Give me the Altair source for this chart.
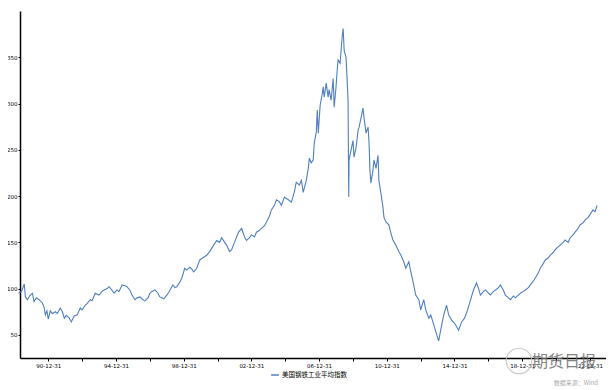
import altair as alt
import pandas as pd

years = [1989.24,1989.42,1989.58,1989.65,1989.77,1989.89,1990.06,1990.16,1990.30,1990.46,1990.65,1990.75,1990.83,1990.92,1991.00,1991.12,1991.24,1991.42,1991.53,1991.71,1991.83,1991.95,1992.06,1992.24,1992.36,1992.53,1992.71,1992.89,1993.00,1993.18,1993.30,1993.48,1993.59,1993.77,1994.00,1994.18,1994.30,1994.48,1994.59,1994.77,1994.89,1995.06,1995.18,1995.36,1995.53,1995.65,1995.83,1995.95,1996.12,1996.24,1996.42,1996.59,1996.71,1996.89,1997.00,1997.12,1997.30,1997.48,1997.59,1997.71,1997.83,1998.00,1998.12,1998.24,1998.36,1998.48,1998.59,1998.77,1998.89,1999.06,1999.18,1999.36,1999.48,1999.59,1999.77,1999.95,2000.12,2000.36,2000.53,2000.77,2000.95,2001.12,2001.24,2001.42,2001.53,2001.71,2001.83,2002.00,2002.24,2002.42,2002.59,2002.71,2002.89,2003.00,2003.18,2003.30,2003.48,2003.59,2003.77,2003.89,2004.06,2004.18,2004.36,2004.48,2004.65,2004.77,2004.95,2005.18,2005.36,2005.53,2005.65,2005.83,2005.95,2006.06,2006.24,2006.36,2006.42,2006.53,2006.65,2006.71,2006.83,2006.89,2006.95,2007.06,2007.18,2007.24,2007.30,2007.42,2007.53,2007.59,2007.71,2007.83,2007.89,2008.00,2008.06,2008.12,2008.24,2008.36,2008.42,2008.48,2008.59,2008.65,2008.71,2008.75,2008.77,2008.89,2009.00,2009.06,2009.18,2009.30,2009.36,2009.48,2009.59,2009.65,2009.77,2009.89,2009.95,2010.00,2010.06,2010.18,2010.24,2010.36,2010.48,2010.53,2010.65,2010.77,2010.83,2010.95,2011.12,2011.24,2011.36,2011.53,2011.71,2011.83,2012.00,2012.12,2012.30,2012.42,2012.53,2012.71,2012.89,2013.00,2013.18,2013.30,2013.48,2013.59,2013.77,2013.95,2014.06,2014.18,2014.36,2014.53,2014.65,2014.83,2015.06,2015.24,2015.42,2015.59,2015.77,2015.95,2016.12,2016.30,2016.42,2016.53,2016.71,2016.83,2017.00,2017.12,2017.30,2017.42,2017.59,2017.71,2017.89,2018.00,2018.18,2018.30,2018.48,2018.59,2018.77,2018.89,2019.06,2019.18,2019.36,2019.48,2019.65,2019.77,2019.95,2020.06,2020.24,2020.36,2020.53,2020.65,2020.83,2020.95,2021.12,2021.24,2021.42,2021.53,2021.71,2021.83,2022.00,2022.12,2022.30,2022.42,2022.59,2022.71,2022.89,2023.00,2023.18,2023.30,2023.42]

values = [95,97,105,91,88,92,95,86,90,88,84.5,80,71.6,76,67,76,73,75,73,79,75,68,71,68,64,70.5,71.6,79,77,82,84,88,87,95,93,97,98.5,100,102,98,95,98.5,97,104,103,102,98,93,88,90,91,88,86.7,90,95,97,98.5,95,91,90,89,93,96,100,104,101,102,107,111.5,122,120,123,121,118,122,131,133,136,140,147,152,150,155,150,147,140,142,150,161,165,156,152,155,158,156,161,163,165,168,172,178,185,190,196,194,190,199,196,193.5,204,215,212,217,204,217,230,241,236,239,257,269,293,268,298,310,318,307,322,307,315,303.6,327,296,318,334,347,343.5,371.6,381,357.5,350,328,303.6,199,239,250,260,242,252,271,274.5,285,295,285,268,274.5,257,228,214,228,239,230,244,217,203,188,177,172,169,160,152.5,147,140,136,129,122,129,118,109,93,88,77,88,77,68,71.6,61,50,43.5,55,71.6,82,71.6,66,61,55,64,68,77,88,98.5,106,100,93,97,98.5,95,93,97,98.5,101,104,98,93,90,88,92,90,93,95,97,98.5,101,104,108,111.5,117,122,127,131,133,136,139,142,145,147,150,152.5,150,155,158,161,165,169,171,174,177,180,185,183,190]

series_name = "美国钢铁工业平均指数"
y_ticks = [50, 100, 150, 200, 250, 300, 350]
x_tick_years = list(range(1990, 2023, 2))


def to_date(y):
    yr = int(y)
    start = pd.Timestamp(year=yr, month=1, day=1)
    return start + pd.Timedelta(days=(y - yr) * 365.25)


df = pd.DataFrame({
    "date": [to_date(y) for y in years],
    "value": values,
    "series": series_name,
})

tick_values = [alt.DateTime(year=y, month=12, date=31) for y in x_tick_years]

FONT = "DejaVu Sans"
LINE_COLOR = "#4f7fbf"

line = alt.Chart(df).mark_line(strokeWidth=1.1, color=LINE_COLOR).encode(
    x=alt.X(
        "date:T",
        scale=alt.Scale(domain=[alt.DateTime(year=1989, month=5, date=1),
                                alt.DateTime(year=2023, month=12, date=13)]),
        axis=alt.Axis(
            title=None,
            values=tick_values,
            labelExpr="(year(datum.value) - 1990) % 4 == 0 ? timeFormat(datum.value, '%y-%m-%d') : ''",
            grid=False,
            tickSize=3,
            labelFontSize=5.5,
            labelPadding=2,
            labelFont=FONT,
            labelColor="#000",
            domainColor="#000",
            domainWidth=1.5,
            tickColor="#000",
        ),
    ),
    y=alt.Y(
        "value:Q",
        scale=alt.Scale(domain=[25, 400], nice=False, zero=False),
        axis=alt.Axis(
            title=None,
            values=y_ticks,
            grid=False,
            tickSize=2,
            labelFontSize=5.5,
            labelPadding=1,
            labelFont=FONT,
            labelColor="#000",
            domainColor="#000",
            domainWidth=1.5,
            tickColor="#000",
        ),
    ),
    color=alt.Color(
        "series:N",
        scale=alt.Scale(range=[LINE_COLOR]),
        legend=alt.Legend(
            title=None,
            orient="none",
            legendX=250,
            legendY=359,
            symbolType="stroke",
            symbolStrokeWidth=1.5,
            symbolSize=60,
            labelFontSize=6.5,
            labelFont="Noto Sans CJK SC",
            labelColor="#000",
            labelOffset=2,
        ),
    ),
)

logo = alt.Chart(pd.DataFrame({"a": [1]})).mark_point(
    shape="circle", filled=False, color="#c0c0c0", strokeWidth=1.2, size=650, opacity=0.8
).encode(x=alt.value(499), y=alt.value(350))

watermark = alt.Chart(pd.DataFrame({"t": ["期货日报"]})).mark_text(
    font="Noto Sans CJK SC", fontSize=16, color="#6e6e6e", opacity=0.85, align="center", baseline="middle"
).encode(x=alt.value(544), y=alt.value(351), text="t:N")

source = alt.Chart(pd.DataFrame({"t": ["数据来源：Wind"]})).mark_text(
    font="Noto Sans CJK SC", fontSize=6, color="#aaaaaa", align="right", baseline="middle"
).encode(x=alt.value(578), y=alt.value(372), text="t:N")

chart = alt.layer(line, logo, watermark, source).properties(
    width=586,
    height=347,
    autosize=alt.AutoSizeParams(type="none"),
    padding={"left": 12, "top": 3, "right": 0, "bottom": 30},
).configure(
    background="white",
    view=alt.ViewConfig(stroke=None),
)

chart.save("out.html", embed_options={"renderer": "svg", "actions": False})
